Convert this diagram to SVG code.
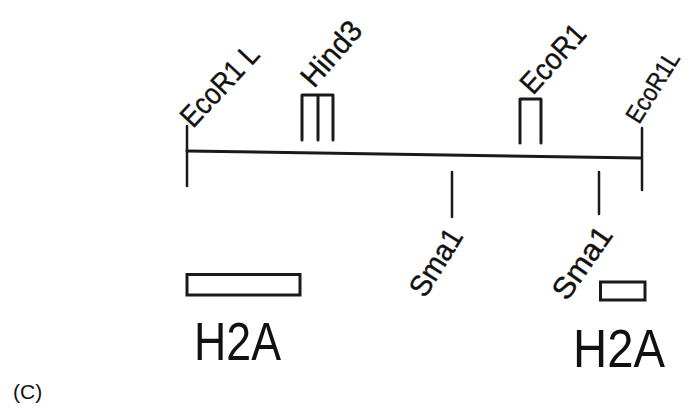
<svg xmlns="http://www.w3.org/2000/svg" width="694" height="417" viewBox="0 0 694 417">
<style>
.ln{stroke:#1a1a1a;stroke-width:3;fill:none;stroke-linecap:round;stroke-linejoin:round}
.tk{stroke:#1a1a1a;stroke-width:2.5;fill:none;stroke-linecap:round}
.box{stroke:#1a1a1a;stroke-width:3;fill:#fff}
.lb{font-family:"Liberation Sans",Arial,sans-serif;font-size:30px;fill:#111;stroke:#111;stroke-width:0.4}
.big{font-family:"Liberation Sans",Arial,sans-serif;font-size:54px;fill:#111}
.cap{font-family:"Liberation Sans",Arial,sans-serif;font-size:21px;fill:#111}
</style>
<rect width="694" height="417" fill="#fff"/>
<g id="connectors">
<line class="ln" x1="187" y1="151" x2="641" y2="158"/>
</g>
<g id="ecor1-left">
<line class="tk" x1="187" y1="126" x2="187" y2="186"/>
<text class="lb" transform="translate(193,129) rotate(-47)" textLength="100" lengthAdjust="spacingAndGlyphs">EcoR1 L</text>
</g>
<g id="hind3">
<path class="ln" d="M302,140 V95 H333 V140 M318,95 V140"/>
<text class="lb" transform="translate(314,89) rotate(-49)" textLength="76" lengthAdjust="spacingAndGlyphs">Hind3</text>
</g>
<g id="ecor1-mid">
<path class="ln" d="M520,143 V99 H541 V143"/>
<text class="lb" transform="translate(533,96) rotate(-48)" textLength="82" lengthAdjust="spacingAndGlyphs">EcoR1</text>
</g>
<g id="ecor1-right">
<line class="tk" x1="642" y1="128" x2="642" y2="190"/>
<text class="lb" transform="translate(639,125) rotate(-58)" style="font-size:25px" textLength="79" lengthAdjust="spacingAndGlyphs">EcoR1L</text>
</g>
<g id="sma1-left">
<line class="tk" x1="452" y1="172" x2="452" y2="217"/>
<text class="lb" transform="translate(425,299) rotate(-58)" textLength="74" lengthAdjust="spacingAndGlyphs">Sma1</text>
</g>
<g id="sma1-right">
<line class="tk" x1="599" y1="172" x2="599" y2="214"/>
<text class="lb" transform="translate(567,302) rotate(-55)" textLength="82" lengthAdjust="spacingAndGlyphs">Sma1</text>
</g>
<g id="h2a-left">
<rect class="box" x="187" y="274.5" width="113" height="20.5"/>
<text class="big" x="194" y="360" textLength="87" lengthAdjust="spacingAndGlyphs">H2A</text>
</g>
<g id="h2a-right">
<rect class="box" x="600.5" y="282" width="44.5" height="18"/>
<text class="big" x="573" y="367" textLength="92" lengthAdjust="spacingAndGlyphs">H2A</text>
</g>
<g id="caption">
<text class="cap" x="13" y="399">(C)</text>
</g>
</svg>
